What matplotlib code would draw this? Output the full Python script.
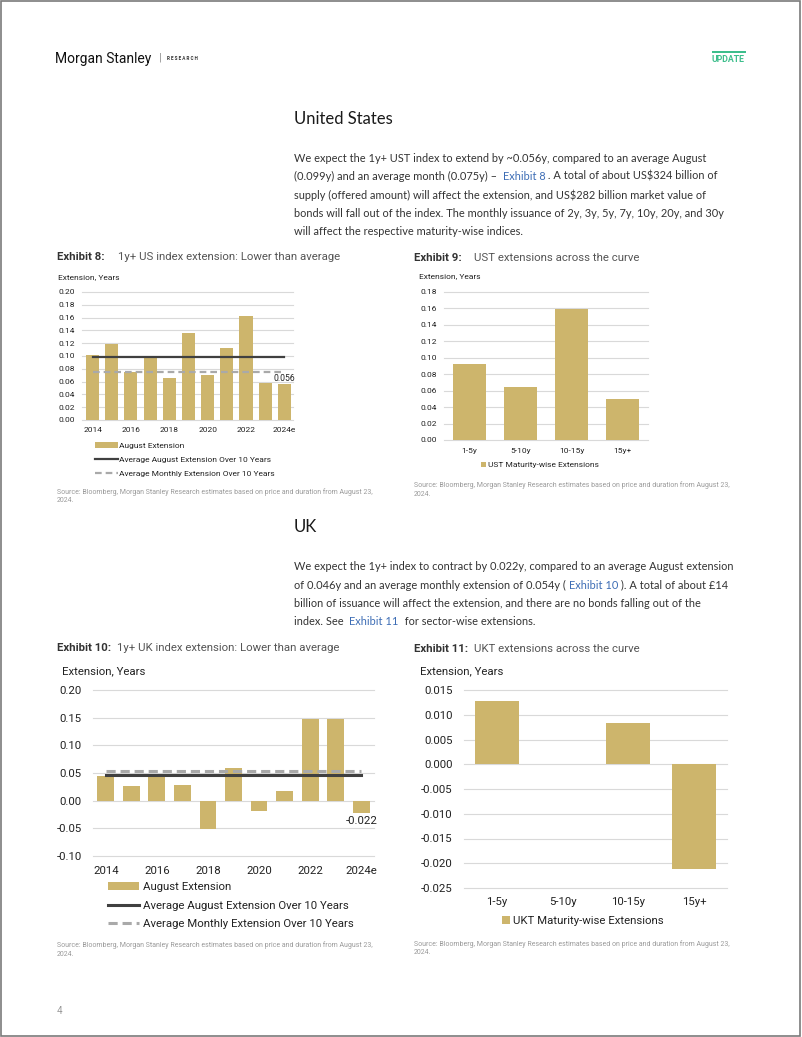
import numpy as np
import matplotlib
matplotlib.use("Agg")
import matplotlib.pyplot as plt
from matplotlib.patches import Rectangle

plt.rcParams['font.family'] = ['Roboto', 'DejaVu Sans']
plt.rcParams['axes.unicode_minus'] = False

# ---- data ----
years = ['2014', '2015', '2016', '2017', '2018', '2019', '2020', '2021', '2022', '2023', '2024e']
us_aug = [0.102, 0.118, 0.075, 0.098, 0.066, 0.136, 0.071, 0.112, 0.162, 0.058, 0.056]
us_avg_aug = 0.099
us_avg_month = 0.075

buckets = ['1-5y', '5-10y', '10-15y', '15y+']
ust_curve = [0.093, 0.065, 0.159, 0.050]

uk_aug = [0.044, 0.026, 0.046, 0.029, -0.051, 0.059, -0.019, 0.018, 0.147, 0.147, -0.022]
uk_avg_aug = 0.046
uk_avg_month = 0.054

ukt_curve = [0.0128, 0.0, 0.0084, -0.0212]

GOLD = '#CDB56C'
DARK = '#404040'
LIGHT = '#A9A9A9'
GRID = '#D9D9D9'
TXT = '#333333'
SRC = '#9A9A9A'
LINK = '#3D6DB5'

W, H = 802, 1037
fig = plt.figure(figsize=(W / 100, H / 100), dpi=100)
renderer = fig.canvas.get_renderer()


def box(x0, y0, x1, y1):
    return [x0 / W, 1 - y1 / H, (x1 - x0) / W, (y1 - y0) / H]


def tx(x, y, s, **kw):
    kw.setdefault('va', 'center_baseline')
    kw.setdefault('color', TXT)
    return fig.text(x / W, 1 - y / H, s, **kw)


def width_px(s, **kw):
    # width of s incl. trailing spaces, measured with a guard char
    t1 = fig.text(0, 0, s + '|', **kw)
    t2 = fig.text(0, 0, '|', **kw)
    w = t1.get_window_extent(renderer).width - t2.get_window_extent(renderer).width
    t1.remove()
    t2.remove()
    return w


def runs(x, y, parts, **kw):
    for s, c in parts:
        tx(x, y, s, color=c, **kw)
        x += width_px(s, **kw)


# ---- page furniture ----
fig.add_artist(Rectangle((0.001, 0.001), 0.997, 0.998, transform=fig.transFigure,
                         fill=False, ec='#7A7A7A', lw=1.2))
tx(55, 57, 'Morgan Stanley', fontsize=10, color='#111111', family=['Roboto'])
tx(159, 57, '|', fontsize=8, color='#888888')
tx(167, 58, 'R E S E A R C H', fontsize=3.3, weight='bold', color='#333333')
fig.add_artist(Rectangle((712 / W, 1 - 53 / H), 34 / W, 1.6 / H, transform=fig.transFigure,
                         color='#3DBE8C', lw=0))
tx(712, 59, 'UPDATE', fontsize=6.3, weight='bold', color='#3DBE8C')
tx(57, 1010, '4', fontsize=7, color='#999999')

body = dict(fontsize=7.95, family=['Lato', 'DejaVu Sans'])
tx(294, 118, 'United States', fontsize=12, color='#1A1A1A', family=['Lato', 'DejaVu Sans'])
us_lines = [
    [('We expect the 1y+ UST index to extend by ~0.056y, compared to an average August', TXT)],
    [('(0.099y) and an average month (0.075y) –  ', TXT), ('Exhibit 8', LINK),
     (' . A total of about US$324 billion of', TXT)],
    [('supply (offered amount) will affect the extension, and US$282 billion market value of', TXT)],
    [('bonds will fall out of the index. The monthly issuance of 2y, 3y, 5y, 7y, 10y, 20y, and 30y', TXT)],
    [('will affect the respective maturity-wise indices.', TXT)],
]
for i, ln in enumerate(us_lines):
    runs(294, 157 + i * 18.4, ln, **body)

tx(294, 526, 'UK', fontsize=12, color='#1A1A1A', family=['Lato', 'DejaVu Sans'])
uk_lines = [
    [('We expect the 1y+ index to contract by 0.022y, compared to an average August extension', TXT)],
    [('of 0.046y and an average monthly extension of 0.054y ( ', TXT), ('Exhibit 10', LINK),
     (' ). A total of about £14', TXT)],
    [('billion of issuance will affect the extension, and there are no bonds falling out of the', TXT)],
    [('index. See  ', TXT), ('Exhibit 11', LINK), ('  for sector-wise extensions.', TXT)],
]
for i, ln in enumerate(uk_lines):
    runs(294, 566 + i * 18.2, ln, **body)


# ---- chart helpers ----
def exhibit_title(x, x2, y, num, title, fs):
    tx(x, y, f'Exhibit {num}:', fontsize=fs, weight='bold', color='#333333')
    tx(x2, y, title, fontsize=fs, color='#555555')


def source(x, y, fs=5.0):
    tx(x, y, 'Source: Bloomberg, Morgan Stanley Research estimates based on price and duration from August 23,',
       fontsize=fs, color=SRC)
    tx(x, y + 9, '2024.', fontsize=fs, color=SRC)


def style_axes(ax, fs, ypad, xpad, fmt):
    for s in ax.spines.values():
        s.set_visible(False)
    ax.tick_params(length=0, labelsize=fs, colors='#222222')
    ax.tick_params(axis='y', pad=ypad)
    ax.tick_params(axis='x', pad=xpad)
    ax.yaxis.set_major_formatter(matplotlib.ticker.StrMethodFormatter(fmt))
    ax.grid(axis='y', color=GRID, lw=0.8)
    ax.set_axisbelow(True)
    for gl in ax.get_ygridlines():
        gl.set_clip_on(False)


def ordered_legend(ax, bars, line_a, line_b, **kw):
    ax.legend([bars, line_a, line_b], [bars.get_label(), line_a.get_label(), line_b.get_label()],
              bbox_transform=fig.transFigure, frameon=False, borderpad=0, borderaxespad=0,
              labelcolor='#222222', **kw)


# Exhibit 8
exhibit_title(57, 118, 256, 8, '1y+ US index extension: Lower than average', 8.2)
tx(58, 277, 'Extension, Years', fontsize=6.0, color='#222222')
ax8 = fig.add_axes(box(82, 292, 293, 420))
x = np.arange(len(years))
b8 = ax8.bar(x, us_aug, width=0.68, color=GOLD, label='August Extension')
l8a, = ax8.plot(x, [us_avg_aug] * len(x), color=DARK, lw=1.6, label='Average August Extension Over 10 Years')
l8b, = ax8.plot(x, [us_avg_month] * len(x), color=LIGHT, lw=1.6, dashes=(3, 1.8),
                label='Average Monthly Extension Over 10 Years')
ax8.set_xlim(-0.55, 10.45)
ax8.set_ylim(0, 0.20)
ax8.set_yticks(np.arange(0, 0.201, 0.02))
ax8.set_xticks(x[::2], years[::2])
style_axes(ax8, 6.0, 5, 5, '{x:.2f}')
ax8.annotate(f'{us_aug[-1]:.3f}', (x[-1], us_aug[-1]), xytext=(0, 1), textcoords='offset points',
             ha='center', va='bottom', fontsize=6.2, color='#222222')
ordered_legend(ax8, b8, l8a, l8b, loc='upper left', bbox_to_anchor=(95 / W, 1 - 442 / H),
               fontsize=6.0, handlelength=2.7, handleheight=0.8, handletextpad=0.2, labelspacing=0.8)
source(57, 491)

# Exhibit 9
exhibit_title(414, 474, 257, 9, 'UST extensions across the curve', 8.2)
tx(419, 276, 'Extension, Years', fontsize=6.0, color='#222222')
ax9 = fig.add_axes(box(444, 292, 648, 440))
xb = np.arange(len(buckets))
ax9.bar(xb, ust_curve, width=0.66, color=GOLD, label='UST Maturity-wise Extensions')
ax9.set_xlim(-0.5, 3.5)
ax9.set_ylim(0, 0.18)
ax9.set_yticks(np.arange(0, 0.181, 0.02))
ax9.set_xticks(xb, buckets)
style_axes(ax9, 6.0, 5, 5.5, '{x:.2f}')
ax9.legend(loc='center', bbox_to_anchor=(540 / W, 1 - 465 / H), bbox_transform=fig.transFigure,
           frameon=False, fontsize=6.0, handlelength=0.65, handleheight=0.65, handletextpad=0.3,
           borderpad=0, borderaxespad=0, labelcolor='#222222')
source(414, 484)

# Exhibit 10
exhibit_title(57, 117, 647, 10, '1y+ UK index extension: Lower than average', 8.2)
tx(62, 670, 'Extension, Years', fontsize=8.2, color='#222222')
ax10 = fig.add_axes(box(93, 690, 374, 856))
b10 = ax10.bar(x, uk_aug, width=0.66, color=GOLD, label='August Extension')
l10a, = ax10.plot(x, [uk_avg_aug] * len(x), color=DARK, lw=2.2, label='Average August Extension Over 10 Years')
l10b, = ax10.plot(x, [uk_avg_month] * len(x), color=LIGHT, lw=2.2, dashes=(3, 1.6),
                  label='Average Monthly Extension Over 10 Years')
ax10.set_xlim(-0.5, 10.5)
ax10.set_ylim(-0.10, 0.20)
ax10.set_yticks(np.arange(-0.10, 0.201, 0.05))
ax10.set_xticks(x[::2], years[::2])
style_axes(ax10, 8.2, 8, 7, '{x:.2f}')
ax10.annotate(f'{uk_aug[-1]:.3f}', (x[-1], uk_aug[-1]), xytext=(0, -2), textcoords='offset points',
              ha='center', va='top', fontsize=8.2, color='#222222')
ordered_legend(ax10, b10, l10a, l10b, loc='upper left', bbox_to_anchor=(108 / W, 1 - 882 / H),
               fontsize=8.2, handlelength=2.7, handleheight=0.7, handletextpad=0.4, labelspacing=0.75)
source(57, 944)

# Exhibit 11
exhibit_title(414, 474, 648, 11, 'UKT extensions across the curve', 8.2)
tx(420, 670, 'Extension, Years', fontsize=8.2, color='#222222')
ax11 = fig.add_axes(box(464, 690, 727, 888))
ax11.bar(xb, ukt_curve, width=0.67, color=GOLD, label='UKT Maturity-wise Extensions')
ax11.set_xlim(-0.5, 3.5)
ax11.set_ylim(-0.025, 0.015)
ax11.set_yticks(np.arange(-0.025, 0.0151, 0.005))
ax11.set_xticks(xb, buckets)
style_axes(ax11, 8.2, 8, 6.5, '{x:.3f}')
ax11.legend(loc='center', bbox_to_anchor=(583 / W, 1 - 921 / H), bbox_transform=fig.transFigure,
            frameon=False, fontsize=8.2, handlelength=0.65, handleheight=0.65, handletextpad=0.3,
            borderpad=0, borderaxespad=0, labelcolor='#222222')
source(414, 943)

fig.savefig('out.png', dpi=100)
